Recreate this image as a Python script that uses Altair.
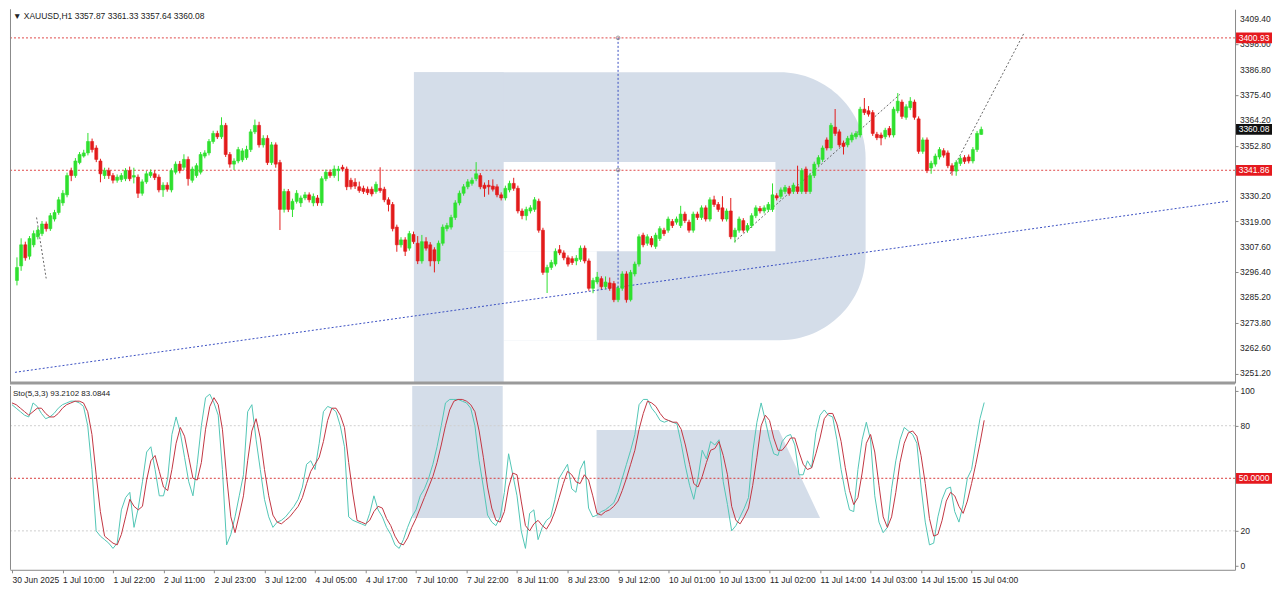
import altair as alt
import pandas as pd

# ---------------- data ----------------
opens = [
    3292.7, 3299.2, 3308.6, 3303.5, 3308.6, 3312.2, 3313.6, 3317.9, 3315.8, 3320.1,
    3323.0, 3327.3, 3330.9, 3341.7, 3339.5, 3345.3, 3348.2, 3349.6, 3354.7, 3351.8,
    3346.0, 3339.5, 3341.7, 3339.5, 3337.4, 3337.7, 3338.1, 3341.7, 3338.8, 3338.8,
    3331.6, 3336.7, 3339.5, 3340.3, 3338.8, 3333.1, 3335.2, 3333.1, 3341.0, 3344.6,
    3343.2, 3346.7, 3337.4, 3339.5, 3341.0, 3348.2, 3349.6, 3354.7, 3358.3, 3356.8,
    3361.9, 3348.9, 3344.6, 3346.0, 3346.5, 3347.5, 3351.1, 3359.0, 3361.9, 3353.2,
    3356.1, 3345.3, 3353.2, 3345.3, 3324.4, 3332.4, 3324.4, 3328.0, 3327.3, 3329.5,
    3330.9, 3327.3, 3329.5, 3327.3, 3338.1, 3341.0, 3339.5, 3341.7, 3343.2, 3342.4,
    3337.4, 3336.5, 3334.5, 3333.8, 3333.4, 3333.4, 3332.4, 3333.8, 3333.4, 3328.7,
    3326.6, 3316.5, 3308.6, 3310.8, 3307.1, 3313.2, 3309.3, 3301.4, 3310.0, 3308.6,
    3306.4, 3301.4, 3309.3, 3315.8, 3316.5, 3320.8, 3327.3, 3331.6, 3334.5, 3336.0,
    3338.1, 3339.5, 3335.2, 3335.2, 3334.8, 3334.5, 3330.9, 3329.5, 3333.1, 3336.0,
    3333.8, 3323.7, 3321.6, 3323.7, 3324.4, 3328.0, 3315.1, 3296.3, 3298.5, 3300.0,
    3306.4, 3305.0, 3302.8, 3302.4, 3301.4, 3302.1, 3307.1, 3301.4, 3289.2, 3292.0,
    3293.5, 3289.9, 3291.6, 3291.3, 3284.1, 3289.2, 3295.6, 3284.1, 3295.6, 3300.0,
    3312.9, 3309.3, 3311.4, 3307.9, 3311.4, 3315.1, 3315.1, 3319.0, 3318.7, 3317.2,
    3322.3, 3318.7, 3315.1, 3322.3, 3320.8, 3325.1, 3320.1, 3328.7, 3326.6, 3325.1,
    3320.1, 3323.7, 3312.2, 3315.1, 3319.4, 3315.1, 3317.2, 3321.6, 3324.8, 3323.7,
    3324.4, 3324.4, 3330.5, 3330.2, 3332.4, 3333.8, 3332.4, 3334.5, 3332.4, 3342.4,
    3332.4, 3339.5, 3344.6, 3346.7, 3355.4, 3351.8, 3361.1, 3359.0, 3354.0, 3353.2,
    3355.4, 3356.8, 3357.6, 3369.1, 3368.4, 3367.6, 3357.9, 3357.6, 3356.8, 3360.5,
    3357.6, 3368.4, 3372.3, 3365.5, 3369.8, 3372.3, 3364.8, 3350.3, 3355.4, 3342.9,
    3344.6, 3347.8, 3350.6, 3349.6, 3343.9, 3341.5, 3344.9, 3347.5, 3347.8, 3346.0,
    3351.1, 3357.87,
]
closes = [
    3298.5, 3308.6, 3302.8, 3311.4, 3313.6, 3315.1, 3317.9, 3315.8, 3321.6, 3323.0,
    3328.7, 3331.6, 3339.5, 3339.5, 3346.0, 3348.9, 3349.6, 3354.7, 3351.1, 3346.7,
    3340.3, 3341.7, 3339.5, 3337.4, 3338.8, 3339.5, 3341.7, 3338.1, 3339.5, 3331.6,
    3336.7, 3340.3, 3341.0, 3338.6, 3333.1, 3335.2, 3333.4, 3341.7, 3344.6, 3341.7,
    3346.7, 3338.1, 3342.4, 3343.9, 3348.9, 3349.6, 3354.7, 3358.3, 3356.8, 3361.9,
    3348.9, 3344.6, 3346.0, 3351.1, 3350.5, 3351.1, 3359.0, 3361.9, 3353.2, 3356.1,
    3345.3, 3353.2, 3344.6, 3324.4, 3332.4, 3324.4, 3328.0, 3331.6, 3329.5, 3330.9,
    3328.7, 3330.2, 3327.3, 3338.1, 3341.0, 3339.5, 3342.4, 3342.4, 3342.4, 3334.5,
    3334.5, 3334.8, 3332.8, 3332.4, 3331.9, 3331.3, 3335.6, 3332.8, 3328.7, 3326.6,
    3315.8, 3308.6, 3310.8, 3305.7, 3313.6, 3310.0, 3301.4, 3310.0, 3307.1, 3301.4,
    3301.4, 3309.3, 3316.5, 3317.2, 3320.8, 3327.3, 3331.6, 3334.5, 3336.7, 3337.4,
    3340.3, 3334.5, 3333.8, 3334.5, 3333.4, 3330.9, 3329.5, 3333.8, 3336.0, 3333.8,
    3323.7, 3321.6, 3324.4, 3325.1, 3328.7, 3315.1, 3296.3, 3298.5, 3300.7, 3305.7,
    3305.0, 3302.8, 3300.0, 3300.7, 3302.6, 3307.1, 3301.4, 3289.2, 3292.7, 3294.2,
    3289.9, 3292.0, 3289.2, 3284.1, 3289.2, 3295.6, 3284.1, 3296.3, 3300.0, 3312.2,
    3308.6, 3312.2, 3308.6, 3312.9, 3315.8, 3313.6, 3320.1, 3317.2, 3320.1, 3322.3,
    3319.4, 3315.1, 3322.3, 3320.8, 3325.1, 3320.1, 3328.7, 3326.6, 3324.4, 3320.1,
    3323.7, 3312.2, 3315.1, 3320.1, 3315.1, 3317.2, 3321.6, 3325.1, 3323.7, 3325.1,
    3326.6, 3330.9, 3329.5, 3333.1, 3334.2, 3331.6, 3335.2, 3332.4, 3341.7, 3332.4,
    3339.5, 3344.6, 3347.5, 3351.8, 3351.8, 3361.9, 3358.3, 3353.2, 3352.5, 3356.1,
    3357.6, 3358.3, 3369.1, 3367.6, 3366.9, 3358.3, 3356.4, 3356.3, 3359.7, 3357.6,
    3369.1, 3372.7, 3365.9, 3370.2, 3372.7, 3365.5, 3350.3, 3355.4, 3341.7, 3345.0,
    3348.2, 3351.1, 3348.6, 3343.9, 3341.5, 3345.3, 3347.2, 3345.8, 3346.0, 3351.1,
    3358.3, 3360.08,
]
highs = [
    3303.0, 3311.5, 3310.0, 3312.5, 3315.0, 3316.5, 3319.2, 3319.0, 3322.8, 3324.2,
    3330.0, 3333.0, 3340.8, 3343.0, 3347.3, 3350.0, 3351.0, 3358.5, 3356.0, 3353.0,
    3347.0, 3343.0, 3343.0, 3340.6, 3340.0, 3340.6, 3342.8, 3343.5, 3343.0, 3340.0,
    3337.8, 3341.5, 3342.2, 3341.8, 3340.0, 3336.5, 3336.5, 3342.8, 3345.8, 3346.0,
    3349.0, 3348.0, 3343.5, 3345.0, 3350.0, 3350.8, 3355.8, 3359.5, 3359.5, 3365.5,
    3363.0, 3350.0, 3347.2, 3352.3, 3351.7, 3352.8, 3360.2, 3364.5, 3363.5, 3357.5,
    3357.5, 3354.5, 3354.3, 3346.5, 3333.6, 3333.5, 3329.2, 3333.0, 3330.6, 3332.2,
    3332.0, 3331.5, 3330.8, 3339.2, 3342.2, 3342.2, 3344.0, 3343.8, 3344.3, 3343.5,
    3338.5, 3338.3, 3336.8, 3335.0, 3334.6, 3334.6, 3336.8, 3343.2, 3334.5, 3329.8,
    3327.7, 3317.6, 3312.0, 3312.0, 3314.8, 3314.5, 3312.5, 3313.0, 3312.0, 3309.8,
    3307.5, 3310.5, 3317.7, 3318.4, 3322.0, 3328.5, 3332.8, 3335.7, 3337.9, 3338.6,
    3345.5, 3340.6, 3336.4, 3337.5, 3337.8, 3335.6, 3332.0, 3335.0, 3337.2, 3338.5,
    3335.0, 3324.8, 3325.6, 3326.3, 3329.9, 3329.2, 3316.2, 3299.7, 3301.9, 3307.0,
    3308.5, 3306.1, 3303.9, 3303.5, 3304.0, 3308.3, 3308.3, 3302.5, 3293.9, 3296.5,
    3294.6, 3294.5, 3294.0, 3292.4, 3290.3, 3296.8, 3296.8, 3297.4, 3301.1, 3313.3,
    3314.0, 3313.3, 3312.5, 3314.0, 3316.9, 3316.2, 3321.2, 3320.1, 3321.2, 3326.0,
    3323.4, 3319.8, 3323.4, 3323.4, 3326.2, 3326.2, 3329.8, 3330.5, 3327.7, 3330.3,
    3324.8, 3329.5, 3316.2, 3321.2, 3320.5, 3318.3, 3322.7, 3326.2, 3325.9, 3326.2,
    3327.7, 3336.0, 3331.6, 3334.2, 3335.3, 3334.9, 3336.3, 3343.9, 3342.8, 3343.5,
    3340.6, 3345.7, 3348.6, 3352.9, 3356.5, 3363.0, 3369.2, 3360.1, 3355.1, 3357.2,
    3358.7, 3359.4, 3370.2, 3374.1, 3370.5, 3368.7, 3359.0, 3358.7, 3360.8, 3361.6,
    3370.2, 3376.3, 3373.4, 3371.3, 3374.5, 3373.4, 3365.9, 3356.5, 3356.5, 3346.1,
    3349.3, 3352.2, 3351.7, 3350.7, 3345.0, 3346.4, 3348.3, 3348.6, 3348.9, 3352.2,
    3359.4, 3361.33,
]
lows = [
    3290.5, 3297.0, 3301.5, 3302.0, 3307.5, 3311.0, 3312.5, 3314.5, 3314.8, 3319.0,
    3322.0, 3326.0, 3329.8, 3337.0, 3338.5, 3344.5, 3347.5, 3348.5, 3349.8, 3345.5,
    3336.5, 3338.0, 3338.0, 3336.0, 3336.3, 3336.6, 3337.0, 3337.0, 3336.0, 3329.5,
    3330.5, 3335.8, 3338.5, 3337.5, 3332.0, 3330.0, 3332.3, 3332.0, 3340.0, 3340.5,
    3342.0, 3335.0, 3336.3, 3338.5, 3340.0, 3347.2, 3348.5, 3353.7, 3355.8, 3355.8,
    3347.8, 3343.0, 3342.0, 3345.0, 3345.5, 3346.5, 3350.0, 3358.0, 3352.0, 3352.0,
    3344.2, 3344.2, 3343.0, 3315.2, 3323.0, 3323.2, 3321.0, 3327.0, 3325.5, 3328.5,
    3327.5, 3325.8, 3326.0, 3326.0, 3337.0, 3338.5, 3338.5, 3337.0, 3341.3, 3333.0,
    3333.3, 3333.5, 3331.8, 3331.3, 3330.8, 3330.2, 3331.4, 3331.8, 3327.6, 3323.5,
    3314.6, 3305.5, 3307.4, 3303.6, 3306.0, 3309.0, 3300.0, 3300.2, 3306.0, 3299.0,
    3296.3, 3300.0, 3308.2, 3314.6, 3315.4, 3319.7, 3326.2, 3330.5, 3333.4, 3335.0,
    3337.0, 3333.4, 3330.0, 3331.0, 3332.4, 3329.8, 3328.4, 3328.4, 3332.0, 3332.7,
    3322.6, 3320.0, 3319.5, 3322.6, 3323.3, 3314.0, 3295.2, 3287.1, 3297.4, 3299.0,
    3304.0, 3301.7, 3298.9, 3299.6, 3299.5, 3301.0, 3300.3, 3288.1, 3287.0, 3291.0,
    3288.8, 3288.8, 3288.1, 3283.0, 3283.0, 3288.1, 3282.8, 3283.3, 3294.5, 3298.9,
    3307.5, 3308.2, 3307.5, 3306.8, 3310.3, 3312.5, 3314.0, 3316.1, 3317.6, 3316.1,
    3318.3, 3314.0, 3314.0, 3319.7, 3319.7, 3319.0, 3319.0, 3325.5, 3323.3, 3319.0,
    3319.0, 3311.1, 3309.6, 3314.0, 3314.0, 3314.0, 3316.1, 3320.5, 3322.6, 3322.6,
    3323.3, 3323.3, 3328.4, 3329.1, 3331.3, 3330.5, 3331.3, 3331.3, 3331.3, 3331.3,
    3331.3, 3338.4, 3343.5, 3345.6, 3350.7, 3350.7, 3357.2, 3352.1, 3348.9, 3352.1,
    3354.3, 3355.7, 3356.5, 3366.5, 3365.8, 3357.2, 3355.3, 3353.0, 3355.7, 3356.5,
    3356.5, 3367.3, 3364.8, 3364.4, 3368.7, 3364.4, 3349.2, 3349.2, 3340.6, 3340.3,
    3343.5, 3346.7, 3347.5, 3342.8, 3339.5, 3339.4, 3343.8, 3344.7, 3344.9, 3344.9,
    3350.0, 3357.64,
]
sto_k = [
    92, 90, 88, 86, 85, 93, 91, 87, 84, 85,
    87, 90, 92, 93, 94, 94, 93, 91, 80, 55,
    20, 17, 15, 13, 10, 13, 32, 39, 42, 22,
    33, 48, 65, 68, 55, 40, 40, 50, 75, 85,
    76, 62, 48, 40, 58, 80, 96, 98, 93, 86,
    55, 12, 18, 28, 40, 52, 88, 92, 72, 55,
    38, 28, 22, 25, 26, 28, 31, 34, 38, 45,
    58, 60, 55, 70, 88, 91, 90, 88, 80, 68,
    28, 26, 25, 24, 23, 30, 40, 32, 28, 22,
    18, 12, 10, 15, 22, 28, 32, 40, 44, 50,
    58, 68, 80, 93, 95, 95, 95, 94, 93, 90,
    80, 60, 45, 29, 25, 23, 28, 42, 64, 52,
    40, 20, 10, 30, 32, 15, 22, 26, 28, 38,
    50, 54, 58, 44, 42, 55, 60, 33, 28, 29,
    31, 32, 34, 36, 42, 50, 58, 66, 75, 92,
    95, 95, 90, 87, 83, 82, 83, 82, 81, 70,
    57, 46, 38, 50, 66, 61, 71, 69, 72, 48,
    35, 20, 23, 28, 33, 39, 65, 82, 93, 83,
    72, 64, 63, 71, 74, 75, 69, 52, 52, 60,
    56, 76, 86, 89, 86, 85, 72, 55, 42, 32,
    31, 55, 72, 82, 72, 40, 25, 19, 22, 44,
    60, 72, 79, 77, 75, 70, 45, 25, 12, 13,
    28, 38, 44, 45, 31, 25, 35, 50, 55, 70,
    84, 93.2102,
]
sto_d = [
    93, 92, 90, 88, 86, 88, 90, 90, 87, 85,
    85, 87, 90, 92, 93, 94, 94, 93, 88, 75,
    52, 31, 17, 15, 13, 12, 18, 28, 38, 34,
    32, 34, 49, 60, 63, 54, 45, 43, 55, 70,
    79, 74, 62, 50, 49, 59, 78, 91, 96, 92,
    78, 51, 28, 19, 29, 40, 60, 77, 84, 73,
    55, 40, 29, 25, 24, 26, 28, 31, 34, 39,
    47, 54, 58, 62, 71, 83, 90, 90, 86, 79,
    59, 41, 26, 25, 24, 26, 31, 34, 33, 27,
    23, 17, 13, 12, 16, 22, 27, 33, 39, 45,
    51, 59, 69, 80, 89, 94, 95, 95, 94, 92,
    88, 77, 62, 45, 33, 26, 25, 31, 45, 53,
    52, 37, 23, 20, 24, 26, 23, 21, 25, 31,
    39, 47, 54, 52, 48, 47, 52, 49, 40, 30,
    29, 31, 32, 34, 37, 43, 50, 58, 66, 78,
    87, 94, 93, 91, 87, 84, 83, 82, 82, 78,
    69, 58, 47, 45, 51, 59, 66, 67, 71, 63,
    52, 34, 26, 24, 28, 33, 46, 62, 80, 86,
    83, 73, 66, 66, 69, 73, 73, 65, 58, 55,
    56, 64, 73, 84, 87, 87, 81, 71, 56, 43,
    35, 39, 53, 70, 75, 65, 46, 28, 22, 28,
    42, 59, 70, 76, 77, 74, 63, 47, 27, 17,
    18, 26, 37, 42, 40, 34, 30, 37, 47, 58,
    70, 83.0844,
]
time_labels = [
    "30 Jun 2025", "1 Jul 10:00", "1 Jul 22:00", "2 Jul 11:00", "2 Jul 23:00",
    "3 Jul 12:00", "4 Jul 05:00", "4 Jul 17:00", "7 Jul 10:00", "7 Jul 22:00",
    "8 Jul 11:00", "8 Jul 23:00", "9 Jul 12:00", "10 Jul 01:00", "10 Jul 13:00",
    "11 Jul 02:00", "11 Jul 14:00", "14 Jul 03:00", "14 Jul 15:00", "15 Jul 04:00",
]
label_step = 12
price_ticks = [3409.40, 3398.00, 3386.80, 3375.40, 3364.20, 3352.80, 3330.20,
               3319.00, 3307.60, 3296.40, 3285.20, 3273.80, 3262.60, 3251.20]
price_tick_text = ["3409.40", "3398.00", "3386.80", "3375.40", "3364.20", "3352.80",
                   "3330.20", "3319.00", "3307.60", "3296.40", "3285.20", "3273.80",
                   "3262.60", "3251.20"]
sto_ticks = [0, 20, 80, 100]
level_prices = [3400.93, 3341.86]
price_boxes = [
    {"p": 3400.93, "t": "3400.93", "c": "#e5191e"},
    {"p": 3360.08, "t": "3360.08", "c": "#111111"},
    {"p": 3341.86, "t": "3341.86", "c": "#e5191e"},
]
header = "\u25bc XAUUSD,H1  3357.87 3361.33 3357.64 3360.08"
sto_title = "Sto(5,3,3) 93.2102 83.0844"

# drawn objects (trend lines etc.) in data units
blue_trend = {"x": [-0.47, 290.6], "y": [3251.7, 3328.2]}
vline = {"x": 144.0, "y": 3400.93, "y2": 3285.0}
vline_marks = {"x": [144.0, 144.0], "y": [3400.93, 3342.0]}
gray_lines = {
    "seg": ["a", "a", "b", "b", "c", "c"],
    "x": [171.9, 211.5, 223.6, 241.2, 4.7, 7.0],
    "y": [3310.0, 3375.7, 3340.3, 3402.9, 3320.8, 3293.6],
}

# ---------------- layout / style ----------------
W, H1, H2 = 1226, 374, 184
GREEN, RED = "#2fe02f", "#e21b1b"
LOGO = "#d4dde9"
FONT = "Liberation Sans"
TXT = "#1e1e1e"
xs = alt.Scale(domain=[-0.47, 290.6], nice=False, zero=False)
ys = alt.Scale(domain=[3246.97, 3413.72], nice=False, zero=False)
ss = alt.Scale(domain=[-2.2, 102.7], nice=False, zero=False)
BOX = "M -1 -0.3 L 1 -0.3 L 1 0.3 L -1 0.3 Z"

n = len(opens)
candles = pd.DataFrame({"i": list(range(n)), "o": opens, "h": highs, "l": lows, "c": closes})
candles["dir"] = ["up" if c >= o else "down" for o, c in zip(opens, closes)]
sto = pd.DataFrame({"i": list(range(n)), "k": sto_k, "d": sto_d})
one = pd.DataFrame({"a": [0]})
dir_scale = alt.Scale(domain=["up", "down"], range=[GREEN, RED])

AX_COMMON = dict(title=None, labelFontSize=8.5, tickSize=3, labelOverlap=False,
                 labelFlush=False, grid=False)


def rect(x, x2, y, y2, scale, color, **kw):
    df = pd.DataFrame({"x": [x], "x2": [x2], "y": [y], "y2": [y2]})
    return alt.Chart(df).mark_rect(color=color, **kw).encode(
        x=alt.X("x:Q", scale=xs), x2="x2:Q",
        y=alt.Y("y:Q", scale=scale), y2="y2:Q")


# ----- top panel -----
top_axes = alt.Chart(candles).mark_rule(opacity=0).encode(
    x=alt.X("i:Q", scale=xs, axis=None),
    y=alt.Y("c:Q", scale=ys, axis=alt.Axis(
        orient="right", values=price_ticks, labels=False, title=None, tickSize=3,
        grid=False)))

tick_txt = alt.Chart(pd.DataFrame({"p": price_ticks, "t": price_tick_text})).mark_text(
    align="left", baseline="middle", fontSize=8.5, font=FONT, color=TXT).encode(
    x=alt.value(W + 5), y=alt.Y("p:Q", scale=ys), text="t:N")

p_outer = rect(95.1, 203.3, 3385.6, 3266.0, ys, LOGO,
               cornerRadiusTopRight=86, cornerRadiusBottomRight=86)
p_stem = rect(95.1, 116.6, 3385.6, 3246.97, ys, LOGO)
p_hole = rect(116.6, 181.7, 3345.5, 3305.7, ys, "white")
p_cut = rect(116.6, 138.9, 3305.7, 3266.0, ys, "white")

levels = alt.Chart(pd.DataFrame({"p": level_prices})).mark_rule(
    color="#e04848", strokeDash=[2, 2], strokeWidth=1).encode(
    y=alt.Y("p:Q", scale=ys))

trend = alt.Chart(pd.DataFrame(blue_trend)).mark_line(
    color="#3a4fc2", strokeDash=[2, 2], strokeWidth=1).encode(
    x=alt.X("x:Q", scale=xs), y=alt.Y("y:Q", scale=ys))

vl = alt.Chart(pd.DataFrame({k: [v] for k, v in vline.items()})).mark_rule(
    color="#3a4fc2", strokeDash=[2, 2], strokeWidth=1).encode(
    x=alt.X("x:Q", scale=xs), y=alt.Y("y:Q", scale=ys), y2="y2:Q")
vl_pts = alt.Chart(pd.DataFrame(vline_marks)).mark_point(
    shape="circle", size=14, filled=False, color="#777777", strokeWidth=1).encode(
    x=alt.X("x:Q", scale=xs), y=alt.Y("y:Q", scale=ys))

glines = alt.Chart(pd.DataFrame(gray_lines)).mark_line(
    color="#666666", strokeDash=[2, 2], strokeWidth=1).encode(
    x=alt.X("x:Q", scale=xs), y=alt.Y("y:Q", scale=ys), detail="seg:N")

wicks = alt.Chart(candles).mark_rule(strokeWidth=1).encode(
    x=alt.X("i:Q", scale=xs),
    y=alt.Y("l:Q", scale=ys), y2="h:Q",
    color=alt.Color("dir:N", scale=dir_scale, legend=None))

bodies = alt.Chart(candles).mark_bar(size=3, strokeWidth=0.6).encode(
    x=alt.X("i:Q", scale=xs),
    y=alt.Y("o:Q", scale=ys), y2="c:Q",
    fill=alt.Fill("dir:N", scale=dir_scale, legend=None),
    stroke=alt.Stroke("dir:N", scale=dir_scale, legend=None))

head = alt.Chart(one).mark_text(
    align="left", baseline="middle", fontSize=8.5, font=FONT, color="#222222").encode(
    x=alt.value(3), y=alt.value(7), text=alt.value(header))

boxes = alt.Chart(pd.DataFrame(price_boxes)).mark_point(
    shape=BOX, size=1296, filled=True, opacity=1, strokeWidth=0).encode(
    x=alt.value(W + 19), y=alt.Y("p:Q", scale=ys),
    color=alt.Color("c:N", scale=None, legend=None))
box_txt = alt.Chart(pd.DataFrame(price_boxes)).mark_text(
    color="white", fontSize=8.5, font=FONT, align="center", baseline="middle").encode(
    x=alt.value(W + 19), y=alt.Y("p:Q", scale=ys), text="t:N")

left_top = alt.Chart(one).mark_rule(color="#8a8a8a", strokeWidth=1).encode(
    x=alt.value(0.5), y=alt.value(0), y2=alt.value(H1))
sep = alt.Chart(one).mark_rule(color="#9a9a9a", strokeWidth=3).encode(
    x=alt.value(0), x2=alt.value(W), y=alt.value(H1))

top = alt.layer(
    top_axes, p_outer, p_stem, p_hole, p_cut, levels, trend, vl, glines, wicks, bodies,
    vl_pts, head, tick_txt, boxes, box_txt, left_top, sep,
).properties(width=W, height=H1)

# ----- bottom panel -----
label_expr = ("[" + ",".join("'" + t + "'" for t in time_labels) + "]"
              + "[round(datum.value/%d)]" % label_step)
bot_axes = alt.Chart(sto).mark_rule(opacity=0).encode(
    x=alt.X("i:Q", scale=xs, axis=alt.Axis(
        orient="bottom", values=list(range(0, label_step * len(time_labels), label_step)),
        labelExpr=label_expr, labelAlign="left", labelPadding=3, **AX_COMMON)),
    y=alt.Y("k:Q", scale=ss, axis=alt.Axis(
        orient="right", values=sto_ticks, format="d", labelPadding=2, **AX_COMMON)))

b_stem = rect(95.1, 116.6, 102.7, 27.3, ss, LOGO)
leg = alt.Chart(pd.DataFrame({"x": [138.9, 182.2, 192.0], "y": [77.6, 77.6, 27.3],
                              "y2": [27.3, 27.3, 27.3]})).mark_area(color=LOGO).encode(
    x=alt.X("x:Q", scale=xs), y=alt.Y("y:Q", scale=ss), y2="y2:Q")

glev = alt.Chart(pd.DataFrame({"v": [80, 20]})).mark_rule(
    color="#cfcfcf", strokeDash=[2, 2], strokeWidth=1).encode(
    y=alt.Y("v:Q", scale=ss))
rlev = alt.Chart(pd.DataFrame({"v": [50]})).mark_rule(
    color="#d83a3a", strokeDash=[2, 2], strokeWidth=1).encode(
    y=alt.Y("v:Q", scale=ss))

k_line = alt.Chart(sto).mark_line(color="#52c6b6", strokeWidth=1).encode(
    x=alt.X("i:Q", scale=xs), y=alt.Y("k:Q", scale=ss))
d_line = alt.Chart(sto).mark_line(color="#c23642", strokeWidth=1).encode(
    x=alt.X("i:Q", scale=xs), y=alt.Y("d:Q", scale=ss))

sto_head = alt.Chart(one).mark_text(
    align="left", baseline="middle", fontSize=8, font=FONT, color="#222222").encode(
    x=alt.value(3), y=alt.value(8), text=alt.value(sto_title))

box50_df = pd.DataFrame({"v": [50], "t": ["50.0000"]})
box50 = alt.Chart(box50_df).mark_point(
    shape=BOX, size=1296, filled=True, opacity=1, strokeWidth=0, color="#e5191e").encode(
    x=alt.value(W + 19), y=alt.Y("v:Q", scale=ss))
box50_t = alt.Chart(box50_df).mark_text(
    color="white", fontSize=8.5, font=FONT, align="center", baseline="middle").encode(
    x=alt.value(W + 19), y=alt.Y("v:Q", scale=ss), text="t:N")

left_bot = alt.Chart(one).mark_rule(color="#8a8a8a", strokeWidth=1).encode(
    x=alt.value(0.5), y=alt.value(0), y2=alt.value(H2))

bottom = alt.layer(
    bot_axes, b_stem, leg, glev, rlev, k_line, d_line, sto_head, box50, box50_t, left_bot,
).properties(width=W, height=H2)

chart = alt.vconcat(top, bottom, spacing=0).properties(
    padding={"left": 0, "top": 0, "right": 0, "bottom": 0}
).configure_view(stroke=None).configure_axis(
    labelFont=FONT, labelColor=TXT, domainColor="#8a8a8a", tickColor="#8a8a8a")

chart.save("out.html", embed_options={"renderer": "svg", "actions": False})
